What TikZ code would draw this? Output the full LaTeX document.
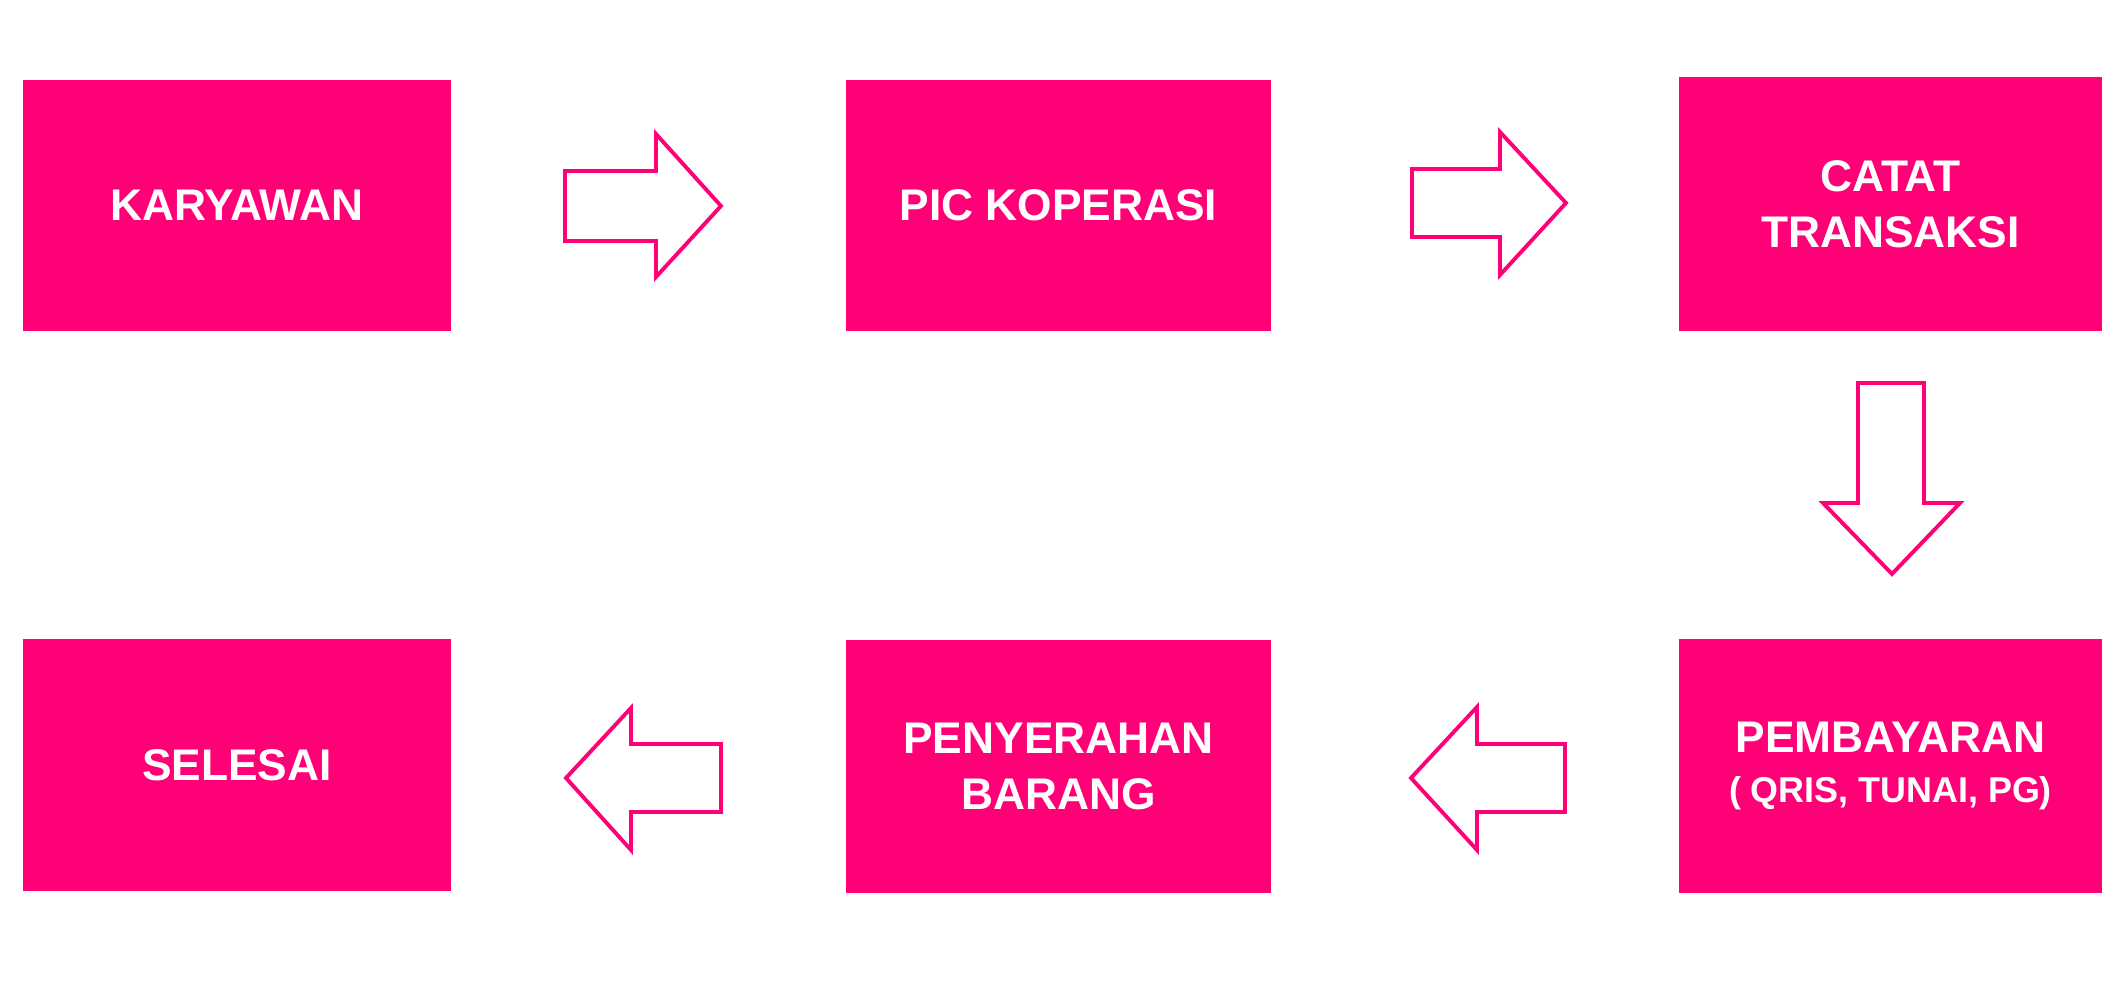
\documentclass[tikz,border=0pt]{standalone}
\usepackage{fontspec}
\setmainfont{Liberation Sans}
\definecolor{pinkx}{HTML}{FF0077}
\begin{document}
\begin{tikzpicture}[x=0.01cm,y=-0.01cm,
  stepbox/.style={fill=pinkx,draw=none,inner sep=0pt,align=center,text=white,
    font=\bfseries\fontsize{12.6pt}{16pt}\selectfont},
  blockarrow/.style={draw=pinkx,fill=white,line width=1.1pt,line join=miter}]
\useasboundingbox[fill=white] (0,0) rectangle (2126,992);
% boxes
\node[stepbox,minimum width=4.28cm,minimum height=2.51cm] (karyawan) at (237,205.5) {KARYAWAN};
\node[stepbox,minimum width=4.25cm,minimum height=2.51cm] (pic) at (1058.5,205.5) {PIC KOPERASI};
\node[stepbox,minimum width=4.23cm,minimum height=2.54cm] (catat) at (1890.5,204) {CATAT\\TRANSAKSI};
\node[stepbox,minimum width=4.28cm,minimum height=2.52cm] (selesai) at (237,765) {SELESAI};
\node[stepbox,minimum width=4.25cm,minimum height=2.53cm] (serah) at (1058.5,766.5) {PENYERAHAN\\BARANG};
\node[stepbox,minimum width=4.23cm,minimum height=2.54cm] (bayar) at (1890.5,766) {PEMBAYARAN\\[-2pt]{\fontsize{10.2pt}{12pt}\selectfont ( QRIS, TUNAI, PG)}};
% block arrows
\draw[blockarrow] (565,171) -- (656,171) -- (656,134) -- (721,206) -- (656,277) -- (656,241) -- (565,241) -- cycle;
\draw[blockarrow] (1412,169) -- (1500,169) -- (1500,132) -- (1566,203) -- (1500,275) -- (1500,237) -- (1412,237) -- cycle;
\draw[blockarrow] (1858,383) -- (1924,383) -- (1924,503) -- (1960,503) -- (1892,574) -- (1823,503) -- (1858,503) -- cycle;
\draw[blockarrow] (1565,744) -- (1477,744) -- (1477,707) -- (1411,778) -- (1477,850) -- (1477,812) -- (1565,812) -- cycle;
\draw[blockarrow] (721,744) -- (631,744) -- (631,708) -- (566,778) -- (631,850) -- (631,812) -- (721,812) -- cycle;
\end{tikzpicture}
\end{document}
